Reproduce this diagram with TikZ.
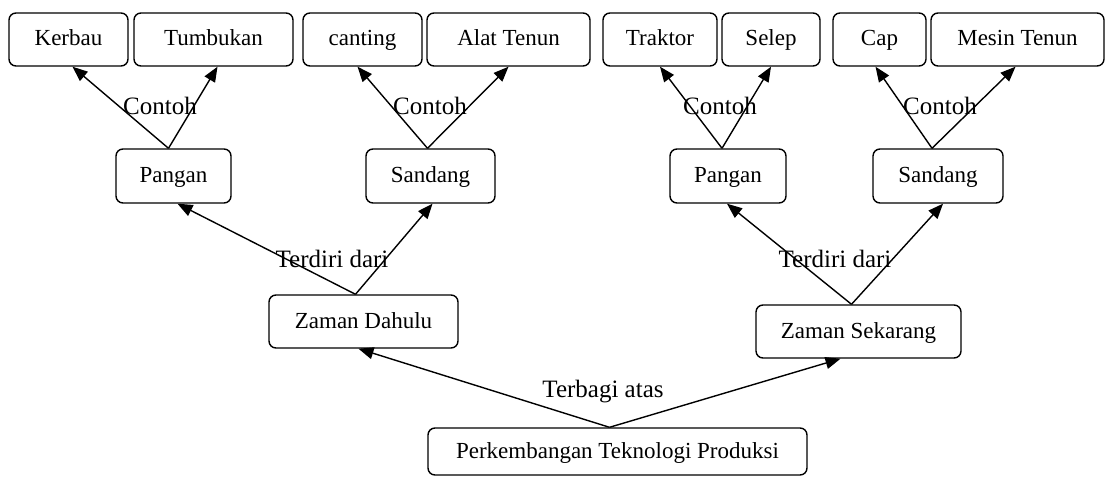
\documentclass[tikz,border=0pt]{standalone}
\usepackage{fontspec}
\setmainfont{Liberation Serif}
\usetikzlibrary{arrows.meta}
\tikzset{
  box/.style={draw, line width=1.4pt, rounded corners=7pt, inner sep=0pt,
    text height=17pt, text depth=4pt,
    minimum height=53pt, font=\fontsize{23}{26}\selectfont},
  lbl/.style={inner sep=0pt, anchor=base, font=\fontsize{25}{28}\selectfont},
  arr/.style={line width=1.4pt, -{Triangle[length=15pt,width=12pt]}}
}
\begin{document}
\begin{tikzpicture}[x=1pt,y=-1pt]
\useasboundingbox[fill=white] (0,0) rectangle (1107,478);
% top row
\node[box, minimum width=119pt] (kerbau) at (68.5,39.5) {Kerbau};
\node[box, minimum width=159pt] (tumbukan) at (213.5,39.5) {Tumbukan};
\node[box, minimum width=119pt] (canting) at (362.5,39.5) {canting};
\node[box, minimum width=163pt] (alat) at (508.5,39.5) {Alat Tenun};
\node[box, minimum width=114pt] (traktor) at (660,39.5) {Traktor};
\node[box, minimum width=98pt] (selep) at (771,39.5) {Selep};
\node[box, minimum width=93pt] (cap) at (879.5,39.5) {Cap};
\node[box, minimum width=173pt] (mesin) at (1017.5,39.5) {Mesin Tenun};
% second row
\node[box, minimum width=115pt, minimum height=54pt] (panganL) at (173.5,176) {Pangan};
\node[box, minimum width=129pt, minimum height=54pt] (sandangL) at (430.5,176) {Sandang};
\node[box, minimum width=116pt, minimum height=54pt] (panganR) at (728,176) {Pangan};
\node[box, minimum width=130pt, minimum height=54pt] (sandangR) at (938,176) {Sandang};
% third row
\node[box, minimum width=189pt] (dahulu) at (363.5,321.5) {Zaman Dahulu};
\node[box, minimum width=205pt] (sekarang) at (858.5,331.5) {Zaman Sekarang};
% root
\node[box, minimum width=379pt, minimum height=47pt] (root) at (617.5,451.5) {Perkembangan Teknologi Produksi};
% connectors
\draw[arr] ([xshift=-8pt]root.north) -- ([xshift=-5pt]dahulu.south);
\draw[arr] ([xshift=-8pt]root.north) -- ([xshift=-18pt]sekarang.south);
\draw[arr] ([xshift=-8pt]dahulu.north) -- ([xshift=4pt]panganL.south);
\draw[arr] ([xshift=-8pt]dahulu.north) -- ([xshift=2pt]sandangL.south);
\draw[arr] ([xshift=-7pt]sekarang.north) -- ([xshift=-1pt]panganR.south);
\draw[arr] ([xshift=-7pt]sekarang.north) -- ([xshift=5pt]sandangR.south);
\draw[arr] ([xshift=-5pt]panganL.north) -- ([xshift=4pt]kerbau.south);
\draw[arr] ([xshift=-5pt]panganL.north) -- ([xshift=4pt]tumbukan.south);
\draw[arr] ([xshift=-3pt]sandangL.north) -- ([xshift=-5pt]canting.south);
\draw[arr] ([xshift=-3pt]sandangL.north) -- (alat.south);
\draw[arr] ([xshift=-6pt]panganR.north) -- (traktor.south);
\draw[arr] ([xshift=-6pt]panganR.north) -- (selep.south);
\draw[arr] ([xshift=-6pt]sandangR.north) -- ([xshift=-4pt]cap.south);
\draw[arr] ([xshift=-6pt]sandangR.north) -- ([xshift=-2pt]mesin.south);
% labels
\node[lbl] (c1) at (160,115) {Contoh};
\node[lbl] (c2) at (430,115) {Contoh};
\node[lbl] (c3) at (720,115) {Contoh};
\node[lbl] (c4) at (940,115) {Contoh};
\node[lbl] (t1) at (332,267) {Terdiri dari};
\node[lbl] (t2) at (835,267) {Terdiri dari};
\node[lbl] (tb) at (603,397) {Terbagi atas};
\end{tikzpicture}
\end{document}
